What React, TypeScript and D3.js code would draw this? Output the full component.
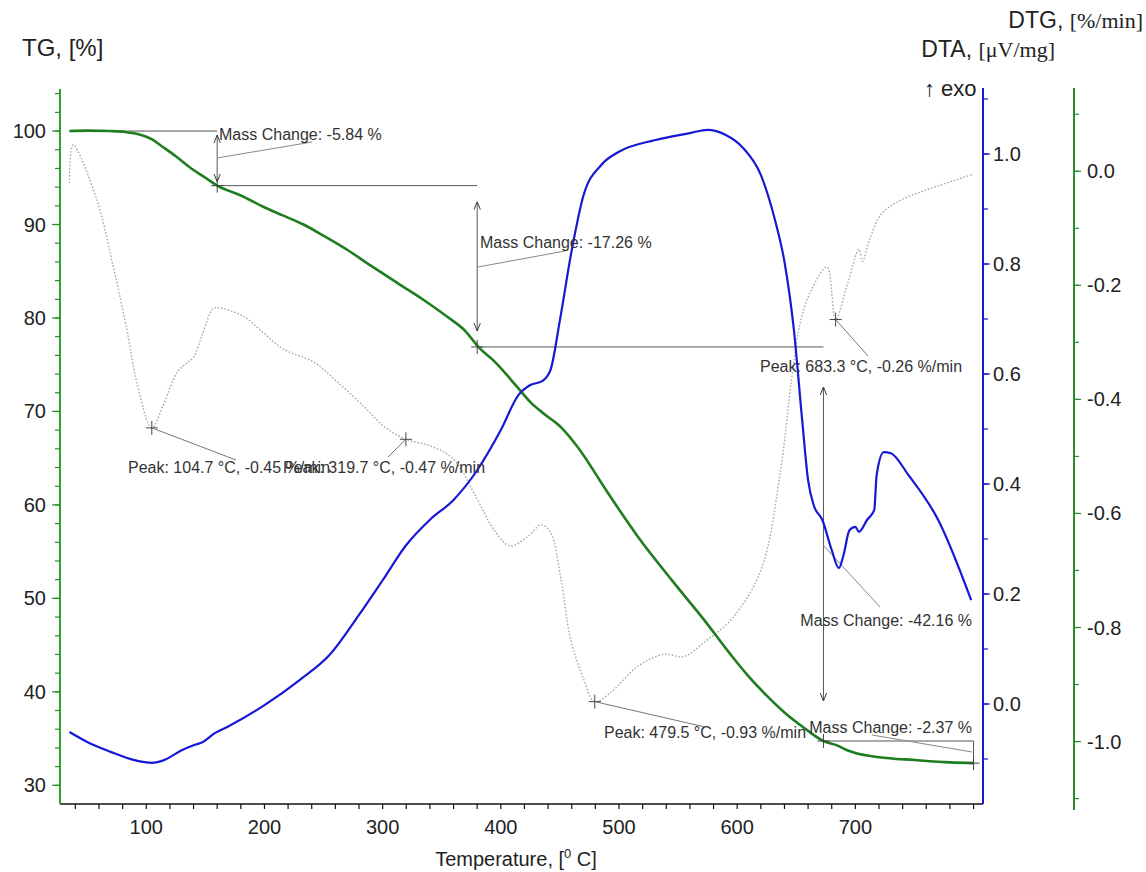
import React from 'react';
import * as d3 from 'd3';

// TG curve, mass %
const tgTemp = [35, 50, 69, 82, 95, 105, 114, 125, 137, 150, 160, 180, 199, 215, 233, 250, 270, 290, 313, 335, 355, 370, 381, 395, 414, 425, 437, 451, 465, 490, 516, 545, 572, 595, 610, 625, 640, 655, 673, 685, 692, 700, 720, 750, 780, 800];
const tgValue = [100, 100.05, 100, 99.9, 99.6, 99.1, 98.3, 97.3, 96.1, 95.0, 94.16, 93.1, 91.9, 91.0, 90.0, 88.8, 87.3, 85.6, 83.7, 81.9, 80.1, 78.6, 76.9, 75.3, 72.6, 71.0, 69.7, 68.3, 66.2, 61.4, 56.6, 51.9, 47.7, 43.9, 41.6, 39.6, 37.8, 36.3, 34.74, 34.25, 33.8, 33.45, 33.0, 32.7, 32.45, 32.37];

// DTA curve, uV/mg
const dtaTemp = [35, 50, 70, 90, 105, 115, 130, 140, 148, 158, 170, 200, 230, 255, 280, 300, 320, 340, 360, 380, 400, 415, 425, 435, 442, 450, 460, 470, 485, 500, 530, 560, 575, 590, 605, 620, 632, 640, 648, 655, 660, 665, 672, 680, 686, 690, 695, 700, 703, 710, 716, 718, 724, 730, 745, 770, 798];
const dtaValue = [-0.051, -0.069, -0.087, -0.102, -0.107, -0.102, -0.084, -0.075, -0.069, -0.053, -0.04, -0.002, 0.044, 0.089, 0.162, 0.225, 0.289, 0.335, 0.371, 0.425, 0.498, 0.562, 0.58, 0.587, 0.607, 0.698, 0.825, 0.925, 0.98, 1.004, 1.025, 1.038, 1.044, 1.035, 1.011, 0.962, 0.88, 0.804, 0.68, 0.516, 0.407, 0.36, 0.335, 0.28, 0.247, 0.271, 0.316, 0.322, 0.313, 0.335, 0.353, 0.416, 0.458, 0.456, 0.416, 0.335, 0.189];

// DTG curve, %/min
const dtgTemp = [35, 38, 58, 72, 84, 92, 104.7, 114, 126, 135, 140, 148, 156, 160, 182, 199, 216, 242, 262, 284, 301, 319.7, 341, 360, 380, 394, 408, 423, 434, 442, 451, 459, 470, 479.5, 493, 516, 538, 555, 572, 595, 620, 637, 646, 654, 663, 676, 683.3, 693, 703, 706, 712, 722, 739, 764, 800];
const dtgValue = [-0.021, 0.046, -0.049, -0.167, -0.282, -0.37, -0.45, -0.412, -0.353, -0.335, -0.326, -0.283, -0.242, -0.239, -0.254, -0.283, -0.312, -0.335, -0.37, -0.412, -0.447, -0.47, -0.482, -0.505, -0.575, -0.628, -0.657, -0.64, -0.62, -0.633, -0.716, -0.82, -0.89, -0.93, -0.914, -0.868, -0.847, -0.851, -0.826, -0.786, -0.70, -0.52, -0.365, -0.26, -0.207, -0.168, -0.26, -0.2, -0.137, -0.158, -0.12, -0.075, -0.05, -0.03, -0.005];

// mass change steps: start temp, end temp, start TG, end TG
const stepStart = [35, 160, 380, 673];
const stepEnd = [160, 380, 673, 800];
const stepFrom = [100, 94.16, 76.9, 34.74];
const stepTo = [94.16, 76.9, 34.74, 32.37];
const stepLabel = ['Mass Change: -5.84 %', 'Mass Change: -17.26 %', 'Mass Change: -42.16 %', 'Mass Change: -2.37 %'];

// DTG peaks
const peakTemp = [104.7, 319.7, 479.5, 683.3];
const peakValue = [-0.45, -0.47, -0.93, -0.26];
const peakLabel = ['Peak: 104.7 °C, -0.45 %/min', 'Peak: 319.7 °C, -0.47 %/min', 'Peak: 479.5 °C, -0.93 %/min', 'Peak: 683.3 °C, -0.26 %/min'];

const xTicks = [100, 200, 300, 400, 500, 600, 700];
const tgTicks = [30, 40, 50, 60, 70, 80, 90, 100];
const dtaTicks = [0.0, 0.2, 0.4, 0.6, 0.8, 1.0];
const dtgTicks = [-1.0, -0.8, -0.6, -0.4, -0.2, 0.0];

const W = 1146, H = 872;
const FONT = 'Arial, "Liberation Sans", sans-serif';
const SERIF = '"Times New Roman", "Liberation Serif", serif';

export default function App() {
  const x = d3.scaleLinear().domain([27, 808]).range([60, 983]);
  const yTG = d3.scaleLinear().domain([28, 104.5]).range([804, 89]);
  const yDTA = d3.scaleLinear().domain([-0.18, 1.12]).range([803, 88]);
  const yDTG = d3.scaleLinear().domain([-1.12, 0.146]).range([810, 88]);

  const tgLine = d3.line<number>().x((d, i) => x(tgTemp[i])).y(d => yTG(d)).curve(d3.curveMonotoneX);
  const dtaLine = d3.line<number>().x((d, i) => x(dtaTemp[i])).y(d => yDTA(d)).curve(d3.curveMonotoneX);
  const dtgLine = d3.line<number>().x((d, i) => x(dtgTemp[i])).y(d => yDTG(d)).curve(d3.curveCatmullRom);

  const xMinor = d3.range(40, 801, 20);
  const tgMinor = d3.range(30, 105, 2);
  const dtaMinor = d3.range(-0.1, 1.11, 0.1);
  const dtgMinor = d3.range(-1.1, 0.11, 0.1);

  const cross = (cx: number, cy: number, k: string) => (
    <g key={k} stroke="#444" strokeWidth={1}>
      <line x1={cx - 6} x2={cx + 6} y1={cy} y2={cy} />
      <line x1={cx} x2={cx} y1={cy - 7} y2={cy + 7} />
    </g>
  );

  // label placement relative to the step / peak
  const stepText = [
    { tx: 219, ty: 140, anchor: 'start', lx1: 217, ly1: 158, lx2: 312, ly2: 142, gap: 4 },
    { tx: 480, ty: 248, anchor: 'start', lx1: 478, ly1: 267, lx2: 565, ly2: 251, gap: 16 },
    { tx: 972, ty: 626, anchor: 'end', lx1: 823, ly1: 545, lx2: 880, ly2: 607, gap: 40 },
    { tx: 972, ty: 733, anchor: 'end', lx1: 972, ly1: 752, lx2: 872, ly2: 735, gap: 0 },
  ];
  const peakText = [
    { tx: 128, ty: 473, lx2: 236, ly2: 460 },
    { tx: 283, ty: 473, lx2: 388, ly2: 457 },
    { tx: 604, ty: 738, lx2: 705, ly2: 727 },
    { tx: 760, ty: 372, lx2: 868, ly2: 356 },
  ];

  return (
    <svg width={W} height={H} style={{ position: 'absolute', left: 0, top: 0, background: '#fff' }} fontFamily={FONT}>
      <defs>
        <marker id="arr" viewBox="0 0 10 10" refX={10} refY={5} markerWidth={8} markerHeight={8} orient="auto-start-reverse" markerUnits="userSpaceOnUse">
          <path d="M0,1 L10,5 L0,9" fill="none" stroke="#333" strokeWidth={1.2} />
        </marker>
      </defs>

      {/* DTG dotted */}
      <path d={dtgLine(dtgValue) || ''} fill="none" stroke="#a2aea2" strokeWidth={1.4} strokeDasharray="1.6,1.8" />

      {/* mass change steps */}
      {stepStart.map((s, i) => {
        const x0 = x(s), x1 = x(stepEnd[i]);
        const y0 = yTG(stepFrom[i]), y1 = yTG(stepTo[i]);
        const t = stepText[i];
        if (i === 3) {
          return (
            <g key={'s' + i} stroke="#555" strokeWidth={1} fill="none">
              <line x1={x0} x2={x1} y1={y0} y2={y0} />
              <line x1={x1} x2={x1} y1={y0} y2={y1} />
              <line x1={t.lx1} y1={t.ly1} x2={t.lx2} y2={t.ly2} stroke="#888" />
            </g>
          );
        }
        return (
          <g key={'s' + i} stroke="#555" strokeWidth={1} fill="none">
            <line x1={x0} x2={x1} y1={y0} y2={y0} />
            <line x1={x1} x2={x1} y1={y0 + t.gap} y2={y1 - t.gap} markerStart="url(#arr)" markerEnd="url(#arr)" />
            <line x1={t.lx1} y1={t.ly1} x2={t.lx2} y2={t.ly2} stroke="#888" />
          </g>
        );
      })}

      {/* TG */}
      <path d={tgLine(tgValue) || ''} fill="none" stroke="#1e7d1e" strokeWidth={2.6} />

      {/* DTA */}
      <path d={dtaLine(dtaValue) || ''} fill="none" stroke="#1717d6" strokeWidth={2.2} />

      {/* markers */}
      {stepStart.map((s, i) => cross(x(stepEnd[i]), yTG(stepTo[i]), 'c' + i))}
      {peakTemp.map((p, i) => cross(x(p), yDTG(peakValue[i]), 'p' + i))}
      {peakTemp.map((p, i) => (
        <line key={'pl' + i} x1={x(p)} y1={yDTG(peakValue[i])} x2={peakText[i].lx2} y2={peakText[i].ly2} stroke="#777" strokeWidth={1} />
      ))}

      {/* annotation texts */}
      <g fontSize={16} fill="#333">
        {stepLabel.map((s, i) => (
          <text key={'st' + i} x={stepText[i].tx} y={stepText[i].ty} textAnchor={stepText[i].anchor as any}>{s}</text>
        ))}
        {peakLabel.map((s, i) => (
          <text key={'pt' + i} x={peakText[i].tx} y={peakText[i].ty}>{s}</text>
        ))}
      </g>

      {/* x axis */}
      <line x1={60} x2={983} y1={804} y2={804} stroke="#111" strokeWidth={1.5} />
      {xMinor.map(t => (
        <line key={'xm' + t} x1={x(t)} x2={x(t)} y1={804} y2={809} stroke="#111" strokeWidth={1.2} />
      ))}
      {xTicks.map(t => (
        <text key={'xt' + t} x={x(t)} y={834} fontSize={20} textAnchor="middle" fill="#222">{t}</text>
      ))}
      <text x={516} y={866} fontSize={20} textAnchor="middle" fill="#222">
        Temperature, [<tspan fontSize={13} dy={-8}>0</tspan><tspan dy={8}> C]</tspan>
      </text>

      {/* TG axis */}
      <line x1={60} x2={60} y1={89} y2={804} stroke="#2aa52a" strokeWidth={2} />
      {tgMinor.map(t => (
        <line key={'tm' + t} x1={55} x2={60} y1={yTG(t)} y2={yTG(t)} stroke="#2a8a2a" strokeWidth={1.2} />
      ))}
      {tgTicks.map(t => (
        <g key={'tt' + t}>
          <line x1={52} x2={60} y1={yTG(t)} y2={yTG(t)} stroke="#2a8a2a" strokeWidth={1.2} />
          <text x={46} y={yTG(t) + 7} fontSize={20} textAnchor="end" fill="#222">{t}</text>
        </g>
      ))}
      <text x={22} y={56} fontSize={24} fill="#222">TG, [%]</text>

      {/* DTA axis */}
      <line x1={983} x2={983} y1={88} y2={804} stroke="#1717d6" strokeWidth={2} />
      {dtaMinor.map((t, i) => (
        <line key={'dm' + i} x1={983} x2={988} y1={yDTA(t)} y2={yDTA(t)} stroke="#1717d6" strokeWidth={1.2} />
      ))}
      {dtaTicks.map(t => (
        <g key={'dt' + t}>
          <line x1={983} x2={990} y1={yDTA(t)} y2={yDTA(t)} stroke="#1717d6" strokeWidth={1.2} />
          <text x={993} y={yDTA(t) + 7} fontSize={20} fill="#222">{t.toFixed(1)}</text>
        </g>
      ))}
      <text x={1055} y={57} fontSize={23} textAnchor="end" fill="#222">
        DTA, <tspan fontFamily={SERIF} fontSize={22}>[μV/mg]</tspan>
      </text>
      <text x={924} y={96} fontSize={22} fill="#222">↑ exo</text>

      {/* DTG axis */}
      <line x1={1074} x2={1074} y1={88} y2={810} stroke="#2e8b2e" strokeWidth={2} />
      {dtgMinor.map((t, i) => (
        <line key={'gm' + i} x1={1074} x2={1079} y1={yDTG(t)} y2={yDTG(t)} stroke="#2e8b2e" strokeWidth={1.2} />
      ))}
      {dtgTicks.map(t => (
        <g key={'gt' + t}>
          <line x1={1074} x2={1081} y1={yDTG(t)} y2={yDTG(t)} stroke="#2e8b2e" strokeWidth={1.2} />
          <text x={1087} y={yDTG(t) + 7} fontSize={20} fill="#222">{t.toFixed(1)}</text>
        </g>
      ))}
      <text x={1143} y={28} fontSize={23} textAnchor="end" fill="#222">
        DTG, <tspan fontFamily={SERIF} fontSize={22}>[%/min]</tspan>
      </text>
    </svg>
  );
}
